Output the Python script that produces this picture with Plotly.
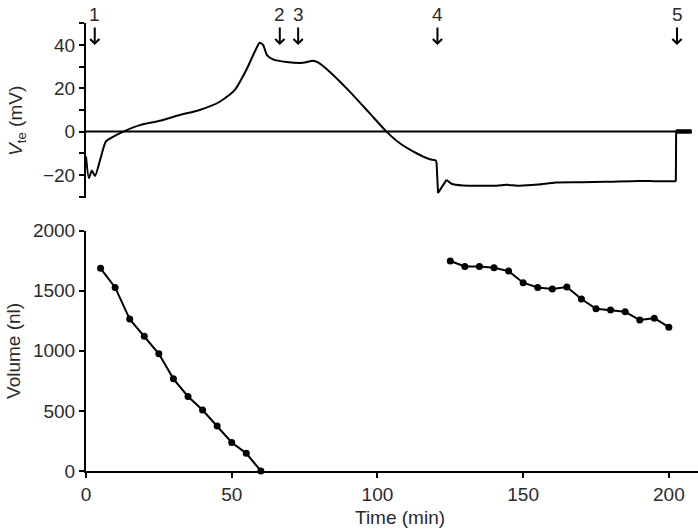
import plotly.graph_objects as go

# ---- data ----
vte_time = [0, 1.0, 2.0, 3.1, 5.0, 6.8, 9.4, 12.8, 18.5, 25.3, 32.2, 39, 45.9, 51, 55, 57.9,
            59.6, 60.8, 62.1, 64.2, 68.8, 74.5, 77.9, 79.6, 83.6, 90.5, 97, 103.1, 107.7,
            113.4, 118, 120, 120.3, 120.8, 123.7, 125.4, 129.4, 140.9, 144.3, 148.6, 155,
            161.2, 170, 178.3, 189.7, 195, 202.4, 202.5, 207.8]
vte_mv = [-11.5, -21.5, -18, -20.5, -12.3, -4.6, -2.3, 0, 3, 5, 7.7, 10, 13.8, 19.2, 28.5, 36.9,
          41.1, 40, 35.4, 33.4, 32.2, 31.8, 32.8, 32, 27.7, 18.5, 9, 0, -5.4,
          -10, -12.8, -13.4, -14.5, -28.4, -22.3, -24.1, -24.9, -25, -24.6, -25, -24.5,
          -23.5, -23.4, -23.2, -22.8, -22.9, -23, 0, 0]
zero_time = [0, 207.8]
zero_mv = [0, 0]
end_time = [202.5, 207.8]
end_mv = [0, 0]

vol1_time = [5, 10, 15, 20, 25, 30, 35, 40, 45, 50, 55, 60]
vol1 = [1687, 1528, 1264, 1122, 975, 767, 620, 508, 375, 237, 147, 0]
vol2_time = [125, 130, 135, 140, 145, 150, 155, 160, 165, 170, 175, 180, 185, 190, 195, 200]
vol2 = [1748, 1703, 1703, 1692, 1664, 1567, 1528, 1514, 1531, 1431, 1350, 1339, 1325, 1256, 1272, 1197]

arrow_labels = ["1", "2", "3", "4", "5"]
arrow_times = [3.0, 66.5, 72.8, 120.6, 202.8]

x_ticks = [0, 50, 100, 150, 200]
vol_ticks = [0, 500, 1000, 1500, 2000]
vte_ticks = [-30, -20, -10, 0, 10, 20, 30, 40, 50]
vte_ticktext = ["", "\u221220", "", "0", "", "20", "", "40", ""]

# ---- figure ----
FONT = "Liberation Sans, Arial, sans-serif"
TXT = "#2b2b2b"
fig = go.Figure()

fig.add_trace(go.Scatter(x=zero_time, y=zero_mv, mode="lines", xaxis="x2", yaxis="y2",
                         line=dict(color="black", width=2), hoverinfo="skip"))
fig.add_trace(go.Scatter(x=end_time, y=end_mv, mode="lines", xaxis="x2", yaxis="y2",
                         line=dict(color="black", width=4.5), hoverinfo="skip"))

# split the trace: smooth segments drawn as splines, sharp jumps as straight lines
i_drop0 = vte_time.index(120.3)
i_drop1 = vte_time.index(123.7)
i_end0 = vte_time.index(202.4)
segments = [
    (0, i_drop0 + 1, "spline"),
    (i_drop0, i_drop1 + 1, "linear"),
    (i_drop1, i_end0 + 1, "spline"),
    (i_end0, len(vte_time), "linear"),
]
for a, b, shape in segments:
    fig.add_trace(go.Scatter(x=vte_time[a:b], y=vte_mv[a:b], mode="lines", xaxis="x2", yaxis="y2",
                             line=dict(color="black", width=2, shape=shape, smoothing=0.6)))

for xs, ys in [(vol1_time, vol1), (vol2_time, vol2)]:
    fig.add_trace(go.Scatter(x=xs, y=ys, mode="lines+markers",
                             line=dict(color="black", width=2),
                             marker=dict(color="black", size=7), cliponaxis=False))

annotations = []
for lab, t in zip(arrow_labels, arrow_times):
    annotations.append(dict(x=t, y=40, xref="x2", yref="y2", ax=t, ay=48.8,
                            axref="x2", ayref="y2", text="", showarrow=True,
                            arrowhead=4, arrowsize=0.9, arrowwidth=2, arrowcolor="black",
                            standoff=0, startstandoff=0))
    annotations.append(dict(x=t, y=1.0185, xref="x2", yref="paper", text=lab, showarrow=False,
                            font=dict(size=19, color=TXT, family=FONT), yanchor="middle",
                            xanchor="center"))

annotations.append(dict(x=-0.113, y=0.781, xref="paper", yref="paper",
                        text="<i>V</i><sub>te</sub> (mV)", textangle=-90, showarrow=False,
                        font=dict(size=19, color=TXT, family=FONT), xanchor="center", yanchor="middle"))
annotations.append(dict(x=-0.1176, y=0.268, xref="paper", yref="paper",
                        text="Volume (nl)", textangle=-90, showarrow=False,
                        font=dict(size=19, color=TXT, family=FONT), xanchor="center", yanchor="middle"))
annotations.append(dict(x=0.513, y=-0.1027, xref="paper", yref="paper",
                        text="Time (min)", showarrow=False,
                        font=dict(size=19, color=TXT, family=FONT), xanchor="center", yanchor="middle"))

axis_common = dict(showgrid=False, zeroline=False, showline=True, linecolor="black", linewidth=2,
                   ticks="outside", ticklen=5, tickwidth=2, tickcolor="black",
                   tickfont=dict(size=19, color=TXT, family=FONT))

fig.update_layout(
    width=698, height=529,
    margin=dict(l=86, r=0, t=23, b=58),
    paper_bgcolor="white", plot_bgcolor="white",
    showlegend=False,
    annotations=annotations,
    xaxis=dict(domain=[0, 1], range=[0, 210], anchor="y", tickvals=x_ticks, **axis_common),
    yaxis=dict(domain=[0, 0.5364], range=[0, 2000], anchor="x", tickvals=vol_ticks, **axis_common),
    xaxis2=dict(domain=[0, 1], range=[0, 210], anchor="y2", matches="x", visible=False),
    yaxis2=dict(domain=[0.6098, 1], range=[-30.6, 50.2], anchor="x2", tickvals=vte_ticks,
                ticktext=vte_ticktext, **axis_common),
)

fig.write_html("out.html", config={"displayModeBar": False},
               post_script="document.body.style.margin='0';document.body.style.padding='0';"
                           "document.documentElement.style.overflow='hidden';")
